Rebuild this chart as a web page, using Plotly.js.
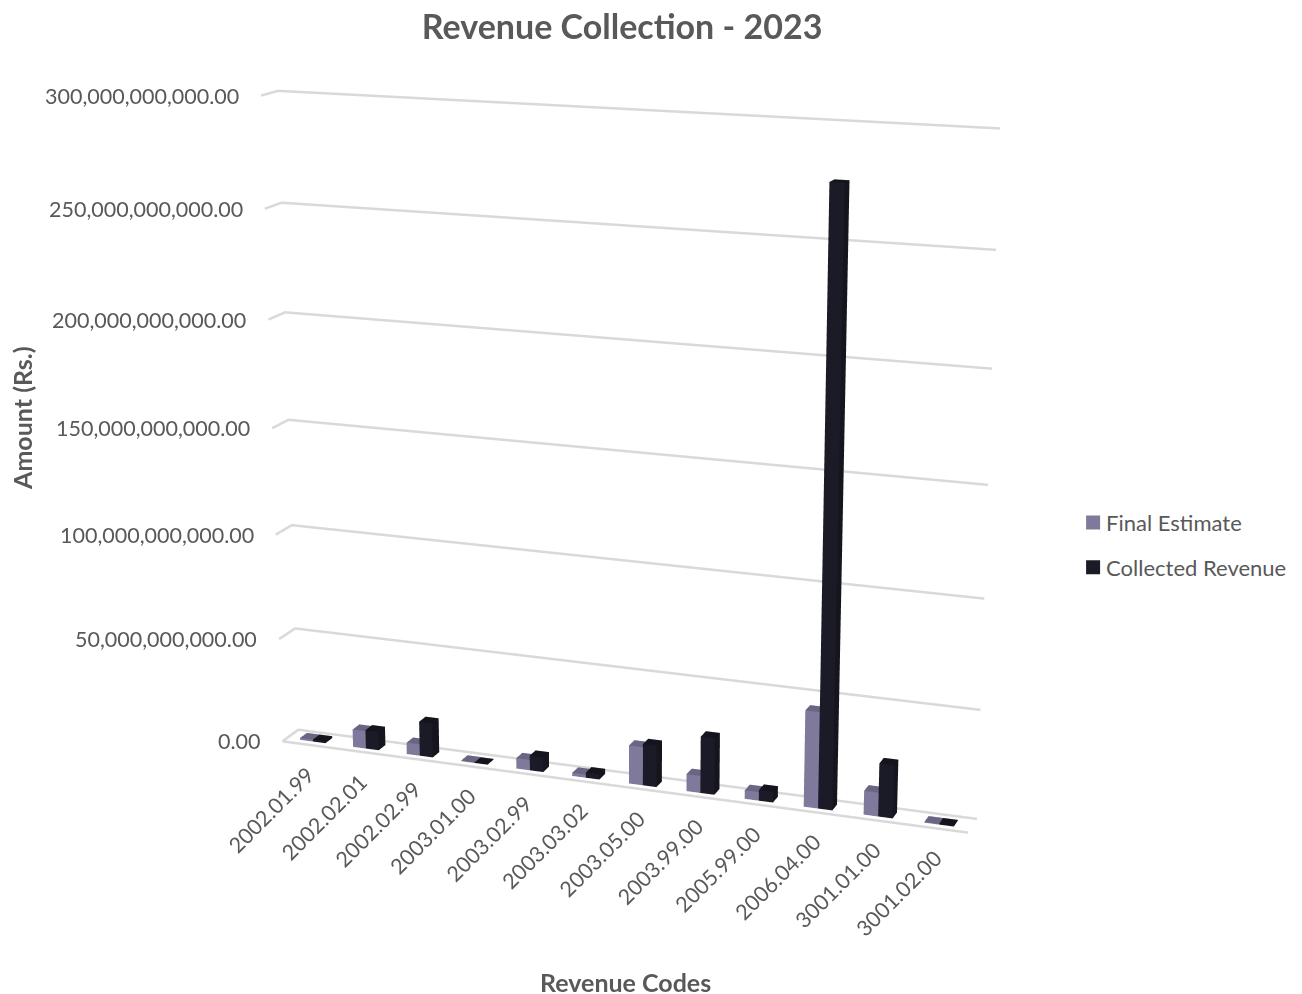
<!DOCTYPE html>
<html><head><meta charset="utf-8"><script src="https://cdn.plot.ly/plotly-3.0.1.min.js"></script>
<style>html,body{margin:0;background:#fff;overflow:hidden;width:1302px;height:994px}#p{position:absolute}</style></head>
<body><div id="p"></div><script>
const categories=["2002.01.99","2002.02.01","2002.02.99","2003.01.00","2003.02.99","2003.03.02","2003.05.00","2003.99.00","2005.99.00","2006.04.00","3001.01.00","3001.02.00"];
const finalEstimate=[0.9e9,8.5e9,5.5e9,0.3e9,5e9,1.5e9,18e9,8e9,4e9,44.6e9,11e9,0.3e9];
const collectedRevenue=[0.9e9,9e9,16.5e9,0.2e9,7e9,2.5e9,19.5e9,26.5e9,5e9,276e9,24.5e9,0.3e9];
const valueTicks=[0,5e10,1e11,1.5e11,2e11,2.5e11,3e11];
const valueLabels=["0.00","50,000,000,000.00","100,000,000,000.00","150,000,000,000.00","200,000,000,000.00","250,000,000,000.00","300,000,000,000.00"];

// Plotly's perspective has a fixed field of view, so a long lens needs a tall plot;
// the plot is larger than the window and centred on the view axis.
const PH=2400,PW=3144,axisX=646.91,axisY=473.18;
const OX=PW/2-axisX, OY=PH/2-axisY;
const el=document.getElementById('p');el.style.left=(-OX)+'px';el.style.top=(-OY)+'px';
const paperX=px=>(px+OX)/PW, paperY=py=>1-(py+OY)/PH;

const text='#595959',grid='#d9d9d9';
const gx=[],gy=[],gz=[];
valueTicks.forEach(v=>{gx.push(0,0,12,null);gy.push(0,1,1,null);gz.push(v,v,v,null);});
gx.push(0,12);gy.push(0,0);gz.push(0,0);
function boxes(name,values,x0,x1,front,top,side){
 const x=[],y=[],z=[],i=[],j=[],k=[],fc=[];
 values.forEach((v,n)=>{const s=x.length,a=n+x0,c=n+x1,y0=.28,y1=.72;
  [[a,y0,0],[c,y0,0],[c,y1,0],[a,y1,0],[a,y0,v],[c,y0,v],[c,y1,v],[a,y1,v]].forEach(q=>{x.push(q[0]);y.push(q[1]);z.push(q[2]);});
  [[0,1,5,front],[0,5,4,front],[1,2,6,side],[1,6,5,side],[4,5,6,top],[4,6,7,top],[3,0,4,side],[3,4,7,side],[2,3,7,side],[2,7,6,side],[0,1,2,side],[0,2,3,side]].forEach(t=>{i.push(s+t[0]);j.push(s+t[1]);k.push(s+t[2]);fc.push(t[3]);});});
 return {type:'mesh3d',name,x,y,z,i,j,k,facecolor:fc,flatshading:true,showlegend:false,hoverinfo:'skip',showscale:false,lighting:{ambient:1,diffuse:0,specular:0,fresnel:0,roughness:1}};}
const key=(name,color,g)=>({type:'scatter',mode:'markers',name,legendgroup:g,x:[null],y:[null],marker:{symbol:'square',size:14,color},hoverinfo:'skip'});
const data=[{type:'scatter3d',mode:'lines',x:gx,y:gy,z:gz,line:{color:grid,width:5},showlegend:false,hoverinfo:'skip'},
 boxes('Final Estimate',finalEstimate,.25,.49,'#7f7a9b','#6a6583','#6c6786'),boxes('Collected Revenue',collectedRevenue,.49,.73,'#1b1b27','#14141c','#15151e'),
 key('Final Estimate','#7f7a9b','a'),key('Collected Revenue','#1b1b27','b')];
const anns=[];
valueTicks.forEach((v,n)=>anns.push({x:0,y:0,z:v,text:valueLabels[n],showarrow:false,xanchor:'right',yanchor:'middle',xshift:-20,font:{family:'Lato',size:21.5,color:text}}));
categories.forEach((c,n)=>anns.push({x:n+.5,y:0,z:0,text:c,showarrow:false,textangle:-45,xanchor:'right',yanchor:'top',xshift:13,yshift:-14,font:{family:'Lato',size:21.5,color:text}}));
const axis={showgrid:false,showticklabels:false,ticks:'',zeroline:false,showline:false,showbackground:false,showspikes:false,title:{text:''}};
const layout={width:PW,height:PH,autosize:false,margin:{l:0,r:0,t:0,b:0},paper_bgcolor:'#fff',plot_bgcolor:'rgba(0,0,0,0)',font:{family:'Lato',color:text},
 xaxis:{visible:false},yaxis:{visible:false},
 title:{text:'<b>Revenue Collection - 2023</b>',x:paperX(622),xanchor:'center',y:paperY(27),yanchor:'middle',font:{family:'Lato',size:34,color:text}},
 legend:{x:paperX(1066),y:paperY(502),yanchor:'top',xanchor:'left',font:{family:'Lato',size:22,color:text},tracegroupgap:13,itemclick:false,itemdoubleclick:false},
 scene:{domain:{x:[0,1],y:[0,1]},bgcolor:'#fff',dragmode:false,
  camera:{projection:{type:'perspective'},eye:{x:1.9495,y:-5.2699,z:1.4886},center:{x:.1343,y:-.1975,z:.0265},up:{x:0,y:-.0046,z:1}},
  aspectmode:'manual',aspectratio:{x:1.5016,y:.0761,z:1.3838},
  xaxis:Object.assign({range:[0,12]},axis),yaxis:Object.assign({range:[0,1]},axis),zaxis:Object.assign({range:[0,3e11]},axis),
  annotations:anns},
 annotations:[
  {xref:'paper',yref:'paper',x:paperX(625),y:paperY(982),xanchor:'center',yanchor:'middle',text:'<b>Revenue Codes</b>',showarrow:false,font:{family:'Lato',size:25,color:text}},
  {xref:'paper',yref:'paper',x:paperX(22),y:paperY(418),xanchor:'center',yanchor:'middle',text:'<b>Amount (Rs.)</b>',textangle:-90,showarrow:false,font:{family:'Lato',size:25,color:text}}]};
Plotly.newPlot('p',data,layout,{displayModeBar:false}).then(()=>{
 document.querySelectorAll('.legendpoints').forEach(g=>g.setAttribute('transform','translate(7,0)'));});
</script></body></html>
